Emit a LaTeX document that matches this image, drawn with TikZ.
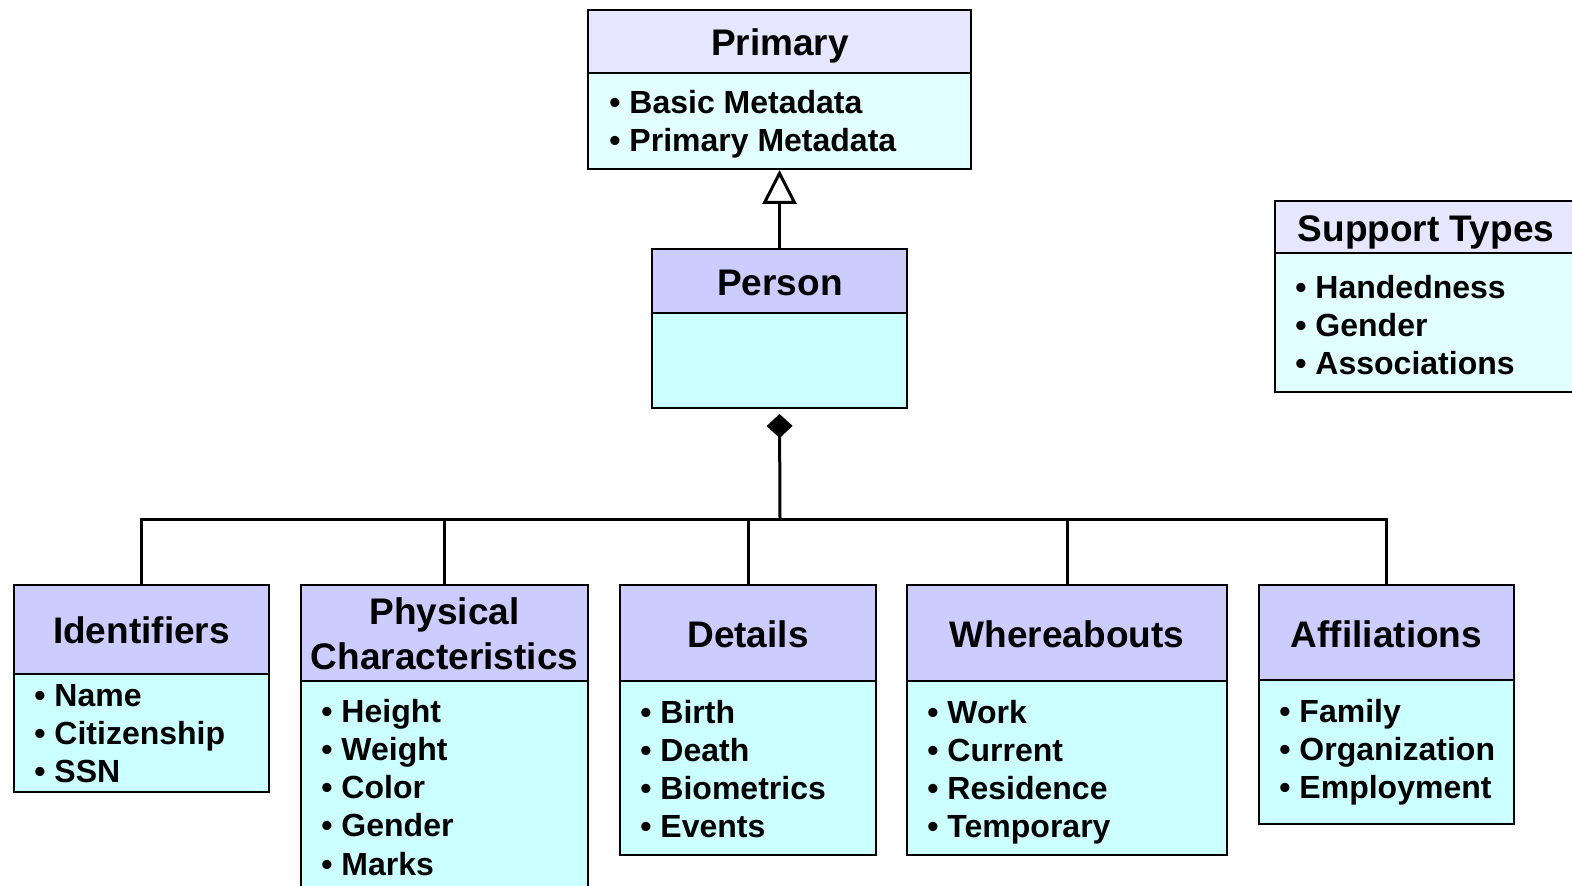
\documentclass[tikz,border=0pt]{standalone}
\usepackage{fontspec}
\setmainfont{Liberation Sans}
\usetikzlibrary{arrows.meta,fit}
\definecolor{hdrfill}{HTML}{CCCCFF}
\definecolor{bodyfill}{HTML}{CCFFFF}
\definecolor{hdrlight}{HTML}{E6E6FF}
\definecolor{bodylight}{HTML}{E2FFFF}
\begin{document}
\begin{tikzpicture}[x=0.5pt,y=-0.5pt,
  box/.style={draw=black, line width=1pt, rectangle, inner sep=0pt},
  hdr/.style={box, fill=hdrfill},
  body/.style={box, fill=bodyfill},
  hdrsoft/.style={box, fill=hdrlight},
  bodysoft/.style={box, fill=bodylight},
  title/.style={font=\fontsize{18.5}{22}\selectfont\bfseries, anchor=base, inner sep=0pt},
  item/.style={font=\fontsize{16}{19}\selectfont\bfseries, anchor=base west, inner sep=0pt},
  link/.style={line width=1.5pt}]
\clip (0,0) rectangle (1572,886);
\fill[white] (0,0) rectangle (1572,886);

% Primary class
\node[bodysoft, fit={(588,73) (971,169)}] (prim-b) {};
\node[hdrsoft, fit={(588,10) (971,73)}] (prim-h) {};
\node[title] (prim-t) at (780,56) {Primary};
\foreach \t [count=\i] in {Basic Metadata, Primary Metadata}
  \node[item] (prim-\i) at (609,{114+38*(\i-1)}) {• \t};

% Person class
\node[body, fit={(652,313) (907,408)}] (pers-b) {};
\node[hdr, fit={(652,249) (907,313)}] (pers-h) {};
\node[title] (pers-t) at (780,296) {Person};

% Support types
\node[bodysoft, fit={(1275,253) (1600,392)}] (supp-b) {};
\node[hdrsoft, fit={(1275,201) (1600,253)}] (supp-h) {};
\node[title] (supp-t) at (1426,242) {Support Types};
\foreach \t [count=\i] in {Handedness, Gender, Associations}
  \node[item] (supp-\i) at (1295,{299+38*(\i-1)}) {• \t};

% Identifiers
\node[body, fit={(14,674) (269,792)}] (iden-b) {};
\node[hdr, fit={(14,585) (269,674)}] (iden-h) {};
\node[title] (iden-t) at (141.5,643) {Identifiers};
\foreach \t [count=\i] in {Name, Citizenship, SSN}
  \node[item] (iden-\i) at (34,{706+38.3*(\i-1)}) {• \t};

% Physical characteristics
\node[body, fit={(301,681) (588,910)}] (phys-b) {};
\node[hdr, fit={(301,585) (588,681)}] (phys-h) {};
\node[title] (phys-t1) at (444.5,624) {Physical};
\node[title] (phys-t2) at (444.5,669) {Characteristics};
\foreach \t [count=\i] in {Height, Weight, Color, Gender, Marks}
  \node[item] (phys-\i) at (321,{722+38.3*(\i-1)}) {• \t};

% Details
\node[body, fit={(620,681) (876,855)}] (detl-b) {};
\node[hdr, fit={(620,585) (876,681)}] (detl-h) {};
\node[title] (detl-t) at (748,647) {Details};
\foreach \t [count=\i] in {Birth, Death, Biometrics, Events}
  \node[item] (detl-\i) at (640,{723+38.3*(\i-1)}) {• \t};

% Whereabouts
\node[body, fit={(907,681) (1227,855)}] (wher-b) {};
\node[hdr, fit={(907,585) (1227,681)}] (wher-h) {};
\node[title] (wher-t) at (1067,647) {Whereabouts};
\foreach \t [count=\i] in {Work, Current, Residence, Temporary}
  \node[item] (wher-\i) at (927,{723+38.3*(\i-1)}) {• \t};

% Affiliations
\node[body, fit={(1259,680) (1514,824)}] (affl-b) {};
\node[hdr, fit={(1259,585) (1514,680)}] (affl-h) {};
\node[title] (affl-t) at (1386.5,647) {Affiliations};
\foreach \t [count=\i] in {Family, Organization, Employment}
  \node[item] (affl-\i) at (1279,{722+38.3*(\i-1)}) {• \t};

% Generalization: Person -> Primary
\draw[link, -{Triangle[open, length=17pt, width=17pt, line width=1.5pt]}]
  (pers-h.north) -- (prim-b.south);

% Composition bus below Person
\coordinate (bus) at (780,520);
\draw[link, -{Diamond[length=12pt, width=13pt]}, shorten >=2.5pt]
  (bus) -- (pers-b.south);
\draw[link] (iden-h.north) -- (iden-h.north |- bus) -- (affl-h.north |- bus) -- (affl-h.north);
\draw[link] (phys-h.north) -- (phys-h.north |- bus);
\draw[link] (detl-h.north) -- (detl-h.north |- bus);
\draw[link] (wher-h.north) -- (wher-h.north |- bus);
\end{tikzpicture}
\end{document}
